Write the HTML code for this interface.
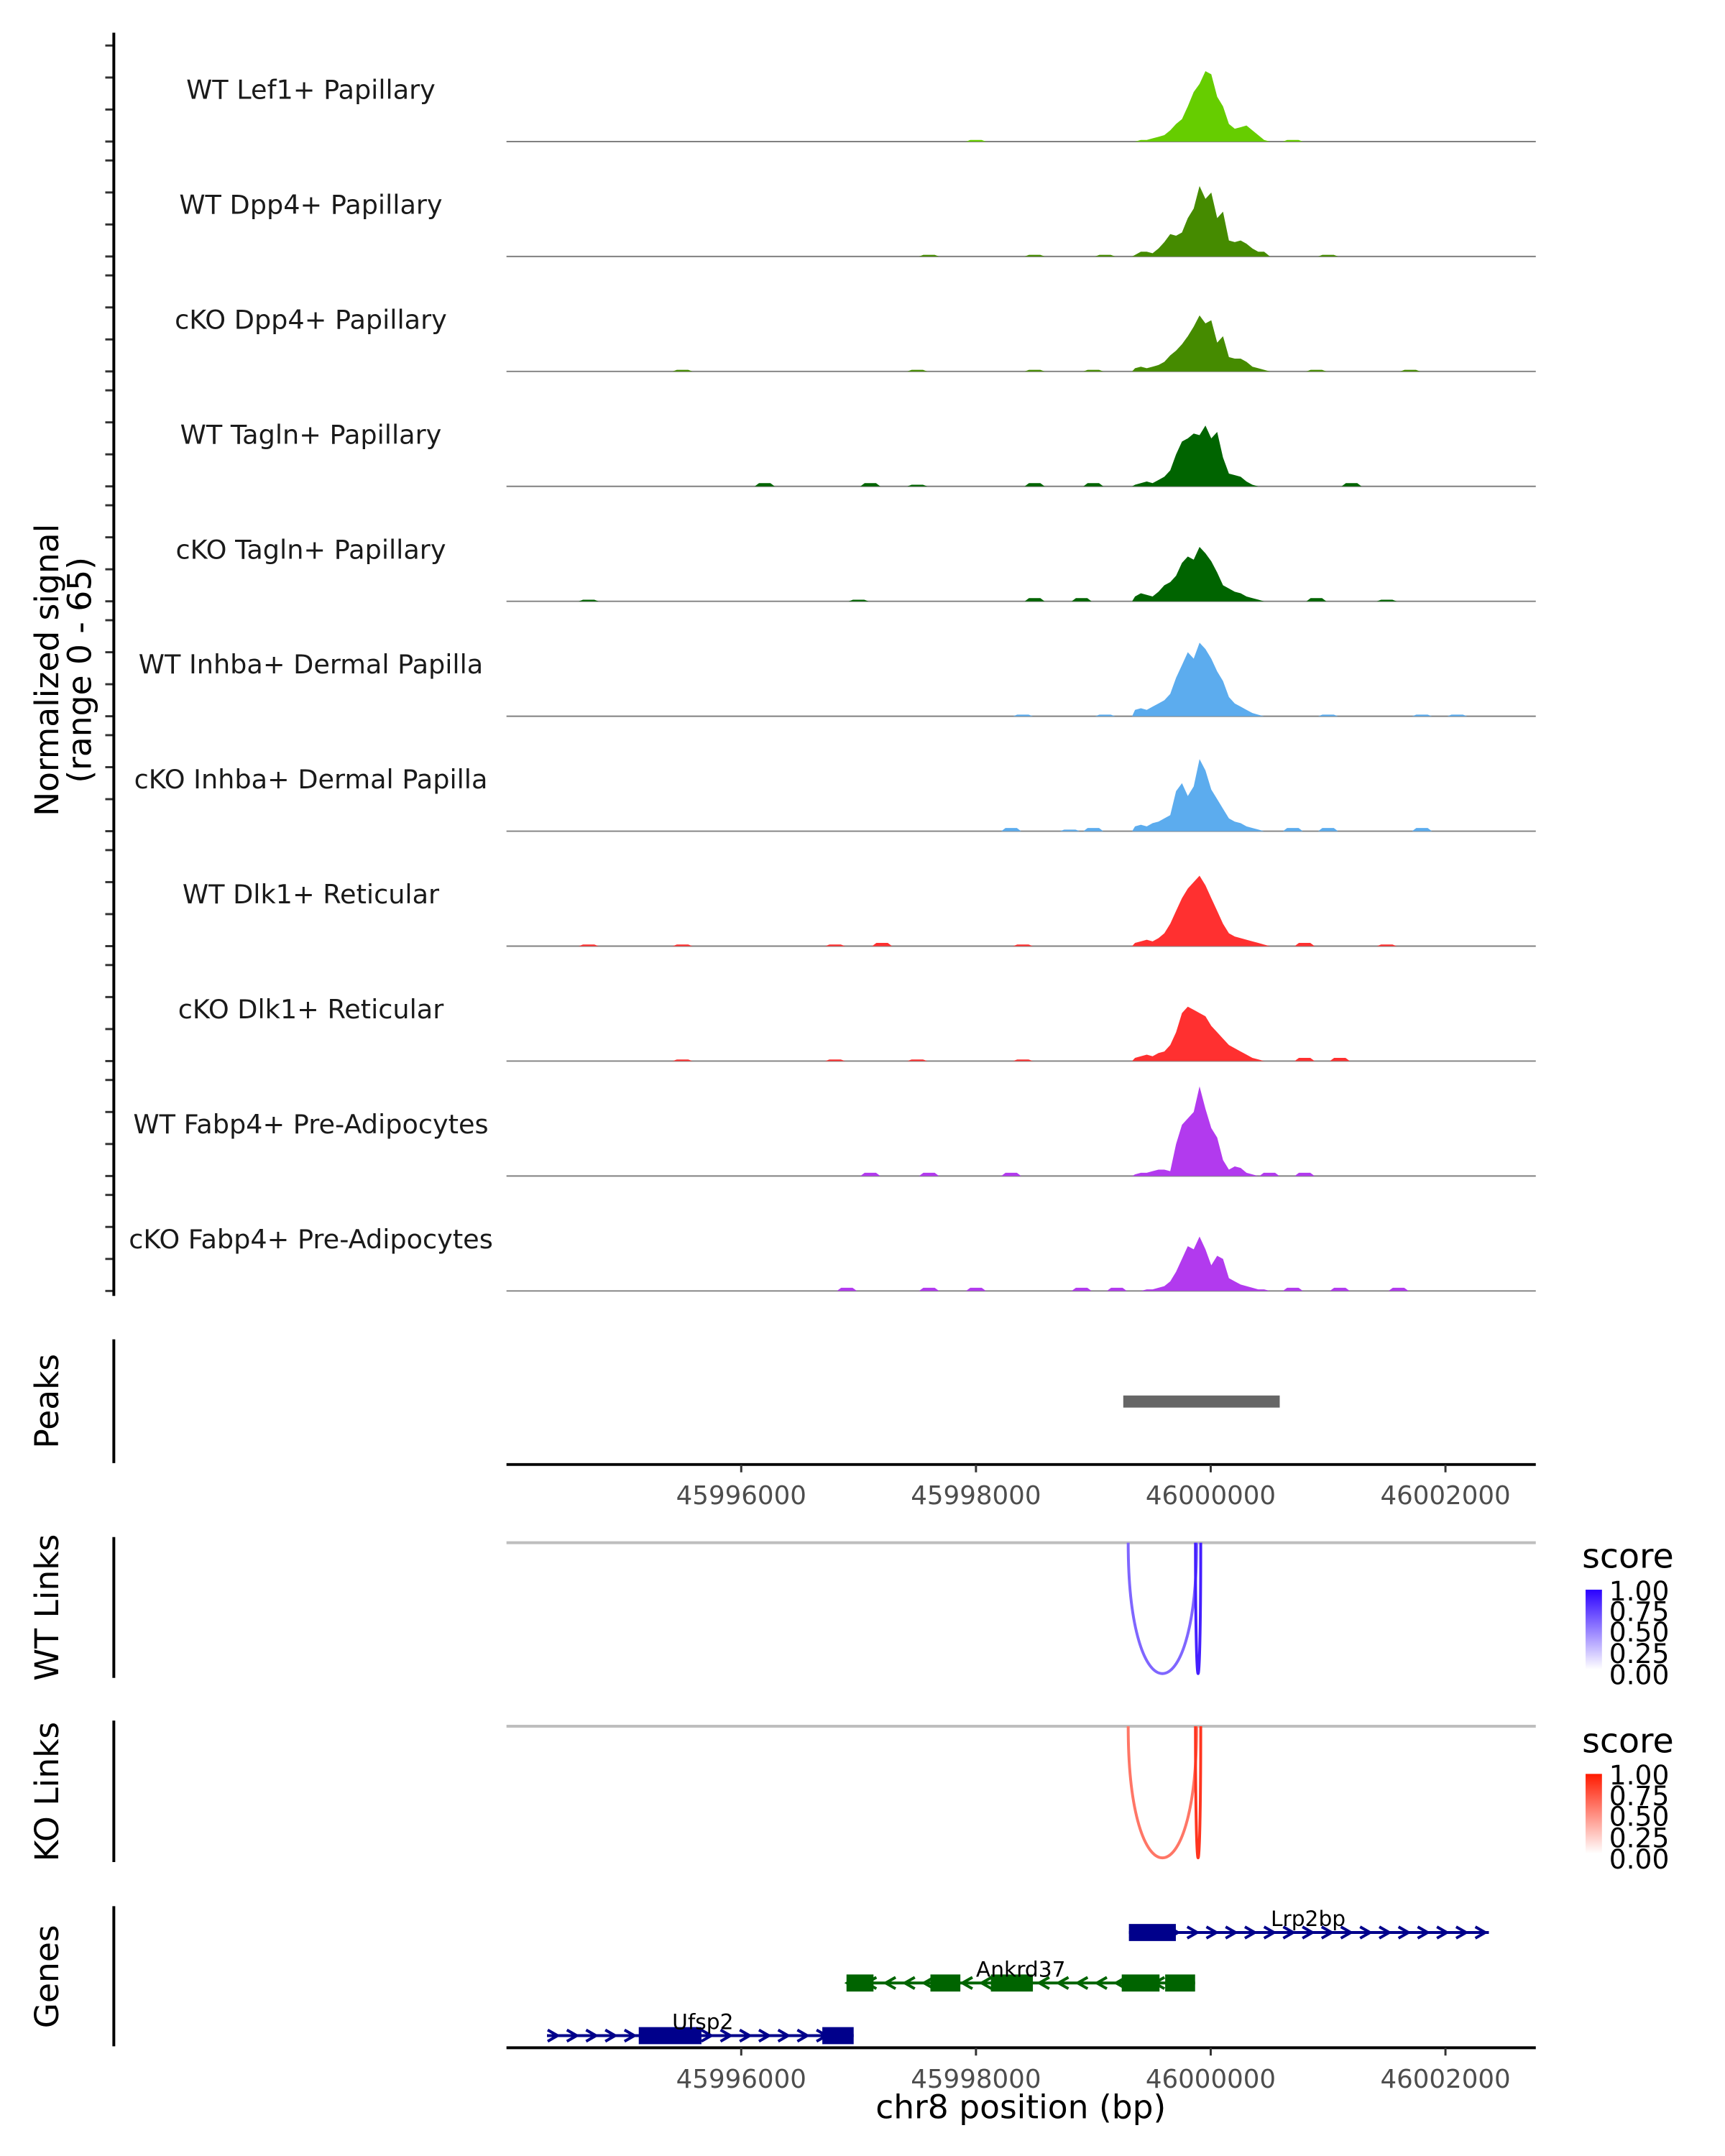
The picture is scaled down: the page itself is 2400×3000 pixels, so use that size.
<!DOCTYPE html>
<html><head><meta charset="utf-8"><style>
html,body{margin:0;padding:0;background:#fff}
svg{display:block;font-family:"DejaVu Sans","Liberation Sans",sans-serif}
</style></head><body>
<svg id="chart" width="2400" height="3000" viewBox="0 0 2400 3000" xmlns="http://www.w3.org/2000/svg">
<defs>
<linearGradient id="gBlue" x1="0" y1="1" x2="0" y2="0"><stop offset="0" stop-color="#ffffff"/><stop offset="1" stop-color="#2a00ff"/></linearGradient>
<linearGradient id="gRed" x1="0" y1="1" x2="0" y2="0"><stop offset="0" stop-color="#ffffff"/><stop offset="1" stop-color="#ff1a00"/></linearGradient>
</defs>
<g transform="scale(0.9897)">
<g id="tracks"></g>
<g id="static">
<line x1="160" y1="46" x2="160" y2="1822" stroke="#000" stroke-width="4"/>
<text transform="translate(82,942) rotate(-90)" text-anchor="middle" font-size="46">Normalized signal</text>
<text transform="translate(128,942) rotate(-90)" text-anchor="middle" font-size="46">(range 0 - 65)</text>
<line x1="160" y1="1883" x2="160" y2="2057" stroke="#000" stroke-width="4"/>
<text transform="translate(82,1970) rotate(-90)" text-anchor="middle" font-size="46">Peaks</text>
<line x1="712" y1="2059" x2="2159" y2="2059" stroke="#000" stroke-width="4"/>
<line x1="160" y1="2161" x2="160" y2="2359" stroke="#000" stroke-width="4"/>
<text transform="translate(82,2260) rotate(-90)" text-anchor="middle" font-size="46">WT Links</text>
<line x1="712" y1="2169" x2="2159" y2="2169" stroke="#bebebe" stroke-width="4"/>
<line x1="160" y1="2419" x2="160" y2="2618" stroke="#000" stroke-width="4"/>
<text transform="translate(82,2519) rotate(-90)" text-anchor="middle" font-size="46">KO Links</text>
<line x1="712" y1="2427" x2="2159" y2="2427" stroke="#bebebe" stroke-width="4"/>
<line x1="160" y1="2680" x2="160" y2="2877" stroke="#000" stroke-width="4"/>
<text transform="translate(82,2779) rotate(-90)" text-anchor="middle" font-size="46">Genes</text>
<line x1="712" y1="2879" x2="2159" y2="2879" stroke="#000" stroke-width="4"/>
<text x="1435" y="2978" text-anchor="middle" font-size="46">chr8 position (bp)</text>
<g>
<text x="2224" y="2204" font-size="48">score</text>
<rect x="2229" y="2235" width="23" height="112" fill="url(#gBlue)"/>
<text font-size="38">
<tspan x="2262" y="2250">1.00</tspan><tspan x="2262" y="2279">0.75</tspan><tspan x="2262" y="2308">0.50</tspan><tspan x="2262" y="2338">0.25</tspan><tspan x="2262" y="2368">0.00</tspan></text>
</g>
<g>
<text x="2224" y="2464" font-size="48">score</text>
<rect x="2229" y="2494" width="23" height="112" fill="url(#gRed)"/>
<text font-size="38">
<tspan x="2262" y="2509">1.00</tspan><tspan x="2262" y="2538">0.75</tspan><tspan x="2262" y="2567">0.50</tspan><tspan x="2262" y="2597">0.25</tspan><tspan x="2262" y="2627">0.00</tspan></text>
</g>
</g>
<g id="dyn"></g>
</g>
</svg>
<script>
// ---- data ----
const trackNames = ["WT Lef1+ Papillary","WT Dpp4+ Papillary","cKO Dpp4+ Papillary","WT Tagln+ Papillary","cKO Tagln+ Papillary","WT Inhba+ Dermal Papilla","cKO Inhba+ Dermal Papilla","WT Dlk1+ Reticular","cKO Dlk1+ Reticular","WT Fabp4+ Pre-Adipocytes","cKO Fabp4+ Pre-Adipocytes"];
const trackColors = ["#66cd00","#458b00","#458b00","#006400","#006400","#5cacee","#5cacee","#ff3030","#ff3030","#b23aee","#b23aee"];
const binStart = 45999330;
const binSize = 50;
const sig0 = [0,1,1,2,3,4,7,11,14,22,31,36,44,42,28,22,11,8,9,10,7,4,1,0];
const sig1 = [1,3,3,2,5,9,14,13,15,24,30,44,36,40,24,28,10,9,10,8,5,3,3,0];
const sig2 = [2,3,2,3,4,6,10,13,17,22,28,35,30,32,18,22,9,8,8,6,3,2,1,0];
const sig3 = [1,2,3,2,4,6,10,20,28,30,33,32,38,30,34,18,8,7,6,3,1,0,0,0];
const sig4 = [3,5,4,3,6,10,12,16,24,28,26,34,30,25,18,10,8,6,5,3,2,1,0,0];
const sig5 = [4,5,4,6,8,10,14,24,32,40,36,46,42,36,28,22,12,8,6,4,2,1,0,0];
const sig6 = [3,4,3,5,6,8,10,25,30,22,28,45,38,26,20,14,8,6,5,3,2,1,0,0];
const sig7 = [2,3,4,3,5,8,14,22,30,36,40,44,38,30,22,14,8,6,5,4,3,2,1,0];
const sig8 = [2,3,4,3,5,6,10,18,30,34,32,30,28,22,18,14,10,8,6,4,2,1,0,0];
const sig9 = [1,2,2,3,4,4,3,20,32,36,40,56,42,30,24,10,4,6,5,2,1,0,0,0];
const sig10 = [0,0,1,1,2,3,6,12,20,28,26,34,26,16,22,20,8,6,4,3,2,1,1,0];
const signals = [sig0,sig1,sig2,sig3,sig4,sig5,sig6,sig7,sig8,sig9,sig10];
// background blips: [position bp, value]
const blips0 = [[45998000,1],[46000700,1]];
const blips1 = [[45997600,1],[45998500,1],[45999100,1],[46001000,1]];
const blips2 = [[45995500,1],[45997500,1],[45998500,1],[45999000,1],[46000900,1],[46001700,1]];
const blips3 = [[45996200,2],[45997100,2],[45997500,1],[45998500,2],[45999000,2],[46001200,2]];
const blips4 = [[45994700,1],[45997000,1],[45998500,2],[45998900,2],[46000900,2],[46001500,1]];
const blips5 = [[45998400,1],[45999100,1],[46001000,1],[46001800,1],[46002100,1]];
const blips6 = [[45998300,2],[45998800,1],[45999000,2],[46000700,2],[46001000,2],[46001800,2]];
const blips7 = [[45994700,1],[45995500,1],[45996800,1],[45997200,2],[45998400,1],[46000800,2],[46001500,1]];
const blips8 = [[45995500,1],[45996800,1],[45997500,1],[45998400,1],[46000800,2],[46001100,2]];
const blips9 = [[45997100,2],[45997600,2],[45998300,2],[46000500,2],[46000800,2]];
const blips10 = [[45996900,2],[45997600,2],[45998000,2],[45998900,2],[45999200,2],[46000700,2],[46001100,2],[46001600,2]];
const blips = [blips0,blips1,blips2,blips3,blips4,blips5,blips6,blips7,blips8,blips9,blips10];
const yTicks = [0,20,40,60];
const xTicks = [45996000,45998000,46000000,46002000];
const xTickLabels = ["45996000","45998000","46000000","46002000"];
const peaks = [[45999255,46000588]];
const wtLinks = [[45999297,45999880,0.5],[45999870,45999915,0.85]];
const koLinks = [[45999297,45999880,0.5],[45999870,45999915,0.85]];
const geneNames = ["Lrp2bp","Ankrd37","Ufsp2"];
const geneStrands = [1,-1,1];
const geneStarts = [45999303,45996897,45994345];
const geneEnds = [46002370,45999867,45996958];
const geneExons = [
  [[45999303,45999703]],
  [[45996897,45997127],[45997612,45997867],[45998127,45998485],[45999242,45999564],[45999612,45999867]],
  [[45995127,45995661],[45996691,45996958]]
];
const geneColors = ["#00008b","#006400","#00008b"];

// ---- scales ----
const X0 = 1042, PXPER = 330/2000;
function xs(bp){ return X0 + (bp-45996000)*PXPER; }
const baseY0 = 199, panelH = 161.6, unitPx = 2.25;
function ys(i,v){ return baseY0 + i*panelH - v*unitPx; }
const NS = "http://www.w3.org/2000/svg";
function mk(tag, attrs, parent){ const e=document.createElementNS(NS,tag); for(const k in attrs) e.setAttribute(k,attrs[k]); parent.appendChild(e); return e; }
const T = document.getElementById('tracks');
const D = document.getElementById('dyn');

trackNames.forEach((name,i)=>{
  const g = mk('g',{},T);
  
  
  const by = ys(i,0);
  yTicks.forEach(t=>{
    const tk = mk('line',{x1:148,x2:160,y1:ys(i,t),y2:ys(i,t),stroke:'#333','stroke-width':3},g);
    
    
  });
  const lb = mk('text',{x:437,y:by-60,'text-anchor':'middle','font-size':37,fill:'#1a1a1a'},g);
  lb.textContent = name;
  
  
  const bl = mk('line',{x1:712,x2:2159,y1:by,y2:by,stroke:'#808080','stroke-width':2},g);
  
  
  const s = signals[i];
  let d = 'M'+xs(binStart).toFixed(1)+','+by;
  s.forEach((v,k)=>{ d += ' L'+xs(binStart+k*binSize+binSize/2).toFixed(1)+','+ys(i,v).toFixed(1); });
  d += ' L'+xs(binStart+s.length*binSize).toFixed(1)+','+by+' Z';
  const ar = mk('path',{d:d,fill:trackColors[i]},g);
  
  
  blips[i].forEach(b=>{
    const x = xs(b[0]);
    const p = mk('path',{d:'M'+(x-14)+','+by+' L'+(x-8)+','+ys(i,b[1])+' L'+(x+8)+','+ys(i,b[1])+' L'+(x+14)+','+by+' Z',fill:trackColors[i]},g);
    
    
  });
});

peaks.forEach(p=>{
  const r = mk('rect',{x:xs(p[0]),y:1962,width:xs(p[1])-xs(p[0]),height:17,fill:'#666666'},D);
  
  
});
[[2059,2115],[2879,2935]].forEach(a=>{
  xTicks.forEach((t,k)=>{
    const l = mk('line',{x1:xs(t),x2:xs(t),y1:a[0],y2:a[0]+11,stroke:'#333','stroke-width':3},D);
    
    
    const tx = mk('text',{x:xs(t),y:a[1],'text-anchor':'middle','font-size':36,fill:'#4d4d4d'},D);
    tx.textContent = xTickLabels[k];
    
    
  });
});
function mix(c1,c2,t){ return 'rgb('+c1.map((c,i)=>Math.round(c+(c2[i]-c)*t)).join(',')+')'; }
function drawLinks(links, y0, depth, hi){
  links.forEach(l=>{
    const x1=xs(l[0]), x2=xs(l[1]), cy=y0+depth*4/3;
    const p = mk('path',{d:'M'+x1+','+y0+' C'+x1+','+cy+' '+x2+','+cy+' '+x2+','+y0,fill:'none',stroke:mix([255,255,255],hi,0.2+0.8*l[2]),'stroke-width':4},D);
    
    
  });
}
drawLinks(wtLinks,2169,184,[42,0,255]);
drawLinks(koLinks,2427,185,[255,26,0]);
const geneY = [2717,2788,2862];
geneNames.forEach((n,i)=>{
  const g = mk('g',{},D);
  
  
  const y = geneY[i], c = geneColors[i];
  const xa = xs(geneStarts[i]), xb = xs(geneEnds[i]);
  mk('line',{x1:xa,x2:xb,y1:y,y2:y,stroke:c,'stroke-width':4},g);
  for(let x=xa+8; x<xb-4; x+=27){
    const dx = geneStrands[i]*7;
    mk('path',{d:'M'+(x-dx)+','+(y-8)+' L'+(x+dx)+','+y+' L'+(x-dx)+','+(y+8),fill:'none',stroke:c,'stroke-width':4},g);
  }
  geneExons[i].forEach(e=>{
    const r = mk('rect',{x:xs(e[0]),y:y-12,width:xs(e[1])-xs(e[0]),height:24,fill:c},g);
    
    
  });
  const lx = [1839,1435,988][i];
  const t = mk('text',{x:lx,y:y-9,'text-anchor':'middle','font-size':30,fill:'#000'},g);
  t.textContent = n;
  
  
});
</script>
</body></html>
